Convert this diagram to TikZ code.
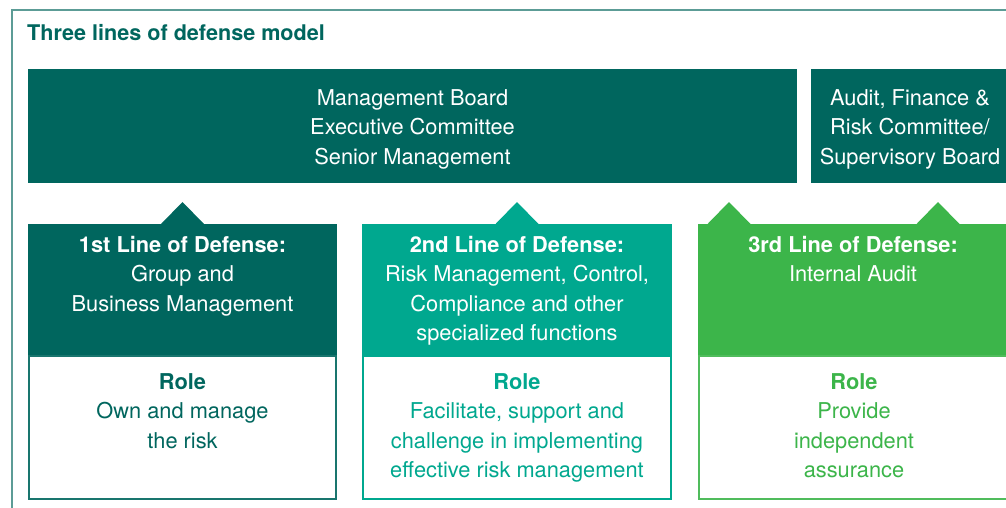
\documentclass[tikz,border=0pt]{standalone}
\usepackage{fontspec}
\setmainfont{TeX Gyre Heros}
\usetikzlibrary{positioning,calc}
\definecolor{dteal}{HTML}{00665E}
\definecolor{mteal}{HTML}{00A88F}
\definecolor{lgreen}{HTML}{3CB54A}
\definecolor{framec}{HTML}{5C9C96}
\begin{document}
\begin{tikzpicture}[x=1pt, y=-1pt, font=\fontsize{21.8}{29.5}\selectfont,
    panel/.style={fill=#1, inner sep=0pt, outer sep=0pt},
    rolebox/.style={draw=#1, line width=2pt, fill=white, inner sep=0pt, outer sep=0pt, minimum height=143pt},
    boxtxt/.style={text=white, align=center, inner sep=0pt, anchor=base},
    roletxt/.style={text=#1, align=center, inner sep=0pt, anchor=base}]
  \useasboundingbox (0,0) rectangle (1006,507);
  \clip (0,0) rectangle (1006,507);
  % outer frame and title
  \draw[framec, line width=1.5pt] (12,530) -- (12,10) -- (1030,10);
  \node[anchor=base west, inner sep=0pt, text=dteal, font=\fontsize{21.6}{24}\selectfont\bfseries] (title) at (27,40.5) {Three lines of defense model};
  % governing bodies (base = last line)
  \node[panel=dteal, minimum width=769pt, minimum height=114pt, anchor=north west] (board) at (28,69) {};
  \node[panel=dteal, minimum width=200pt, minimum height=114pt, anchor=north west] (audit) at (811,69) {};
  \node[boxtxt] (boardtxt) at ($(board.north)+(0,95)$) {Management Board\\Executive Committee\\Senior Management};
  \node[boxtxt] (audittxt) at ($(audit.north west)+(99,95)$) {Audit, Finance \&\\Risk Committee/\\Supervisory Board};
  % three lines
  \node[panel=dteal, minimum width=309pt, minimum height=132pt, anchor=north west] (line1) at (28,224) {};
  \node[panel=mteal, minimum width=310pt, minimum height=132pt, anchor=north west] (line2) at (362,224) {};
  \node[panel=lgreen, minimum width=310pt, minimum height=132pt, anchor=north west] (line3) at (698,224) {};
  \fill[dteal] ($(line1.north)+(-21.5,0)$) -- ($(line1.north)+(0,-22)$) -- ($(line1.north)+(21.5,0)$) -- cycle;
  \fill[mteal] ($(line2.north)+(-21.5,0)$) -- ($(line2.north)+(0,-22)$) -- ($(line2.north)+(21.5,0)$) -- cycle;
  \foreach \dx in {31,240}
    \fill[lgreen] ($(line3.north west)+(\dx-21.5,0)$) -- ($(line3.north west)+(\dx,-22)$) -- ($(line3.north west)+(\dx+21.5,0)$) -- cycle;
  \node[boxtxt] (head1) at ($(line1.north)+(0,87)$) {\textbf{1st Line of Defense:}\\Group and\\Business Management};
  \node[boxtxt] (head2) at ($(line2.north)+(0,116.5)$) {\textbf{2nd Line of Defense:}\\Risk Management, Control,\\Compliance and other\\specialized functions};
  \node[boxtxt] (head3) at ($(line3.north west)+(155,57.5)$) {\textbf{3rd Line of Defense:}\\Internal Audit};
  % roles
  \node[rolebox=dteal!90, minimum width=307pt, anchor=north] (role1) at (line1.south) {};
  \node[rolebox=mteal, minimum width=308pt, anchor=north] (role2) at (line2.south) {};
  \node[rolebox=lgreen!90, minimum width=308pt, anchor=north] (role3) at (line3.south) {};
  \node[roletxt=dteal] (rtxt1) at ($(role1.north)+(0,92)$) {\textbf{Role}\\Own and manage\\the risk};
  \node[roletxt=mteal] (rtxt2) at ($(role2.north)+(0,121.5)$) {\textbf{Role}\\Facilitate, support and\\challenge in implementing\\effective risk management};
  \node[roletxt=lgreen] (rtxt3) at ($(role3.north west)+(155,121.5)$) {\textbf{Role}\\Provide\\independent\\assurance};
\end{tikzpicture}
\end{document}
